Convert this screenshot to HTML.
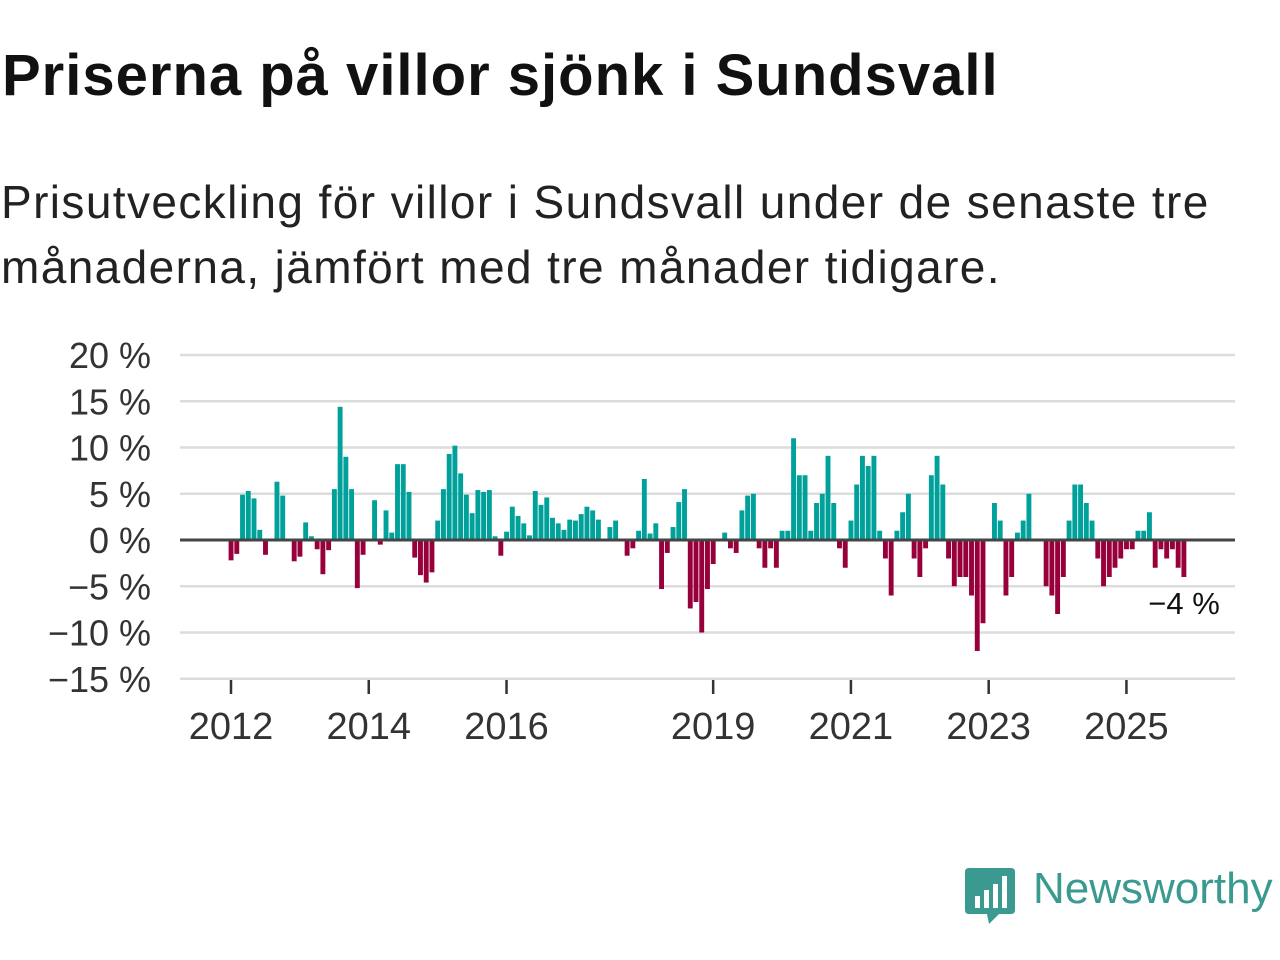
<!DOCTYPE html>
<html><head><meta charset="utf-8">
<style>
body{margin:0;width:1280px;height:960px;background:#fff;font-family:"Liberation Sans",sans-serif;overflow:hidden;position:relative}
h1{position:absolute;left:2px;top:47px;margin:0;font-size:58px;line-height:1;font-weight:bold;color:#111;letter-spacing:1px}
p{position:absolute;left:1px;top:170px;margin:0;font-size:46px;line-height:65px;color:#222;width:1279px;letter-spacing:1.4px;white-space:nowrap}
svg{position:absolute;left:0;top:0}
</style></head><body>
<h1>Priserna på villor sjönk i Sundsvall</h1>
<p>Prisutveckling för villor i Sundsvall under de senaste tre<br>månaderna, jämfört med tre månader tidigare.</p>
<svg id="chart" width="1280" height="960"></svg>
<script>
const values=[-2.2,-1.5,4.9,5.3,4.5,1.1,-1.6,0,6.3,4.8,0,-2.3,-1.8,1.9,0.4,-1.0,-3.7,-1.1,5.5,14.4,9.0,5.5,-5.2,-1.6,0,4.3,-0.5,3.2,0.8,8.2,8.2,5.2,-1.9,-3.8,-4.6,-3.5,2.1,5.5,9.3,10.2,7.2,4.9,2.9,5.4,5.2,5.4,0.4,-1.7,0.9,3.6,2.6,
1.8,0.5,5.3,3.8,4.6,2.4,1.8,1.1,2.2,2.1,2.8,3.6,3.2,2.2,0,1.4,2.1,0,-1.7,-0.9,1.0,6.6,0.7,1.8,-5.3,-1.4,1.4,4.1,5.5,-7.4,-6.7,-10,-5.3,-2.6,0,0.8,-0.9,-1.4,3.2,4.8,5.0,-0.9,-3.0,-0.9,-3.0,1.0,1.0,11.0,7.0,7.0,1.0,4.0,5.0,9.1,4.0,-0.9,-3.0,2.1,6.0,
9.1,8.0,9.1,1.0,-2.0,-6.0,1.0,3.0,5.0,-2.0,-4.0,-0.9,7.0,9.1,6.0,-2.0,-5.0,-4.0,-4.0,-6.0,-12.0,-9.0,0,4.0,2.1,-6.0,-4.0,0.8,2.1,5.0,0,0,-5.0,-6.0,-8.0,-4.0,2.1,6.0,6.0,4.0,2.1,-2.0,-5.0,-4.0,-3.0,-2.0,-1.0,-1.0,1.0,1.0,3.0,-3.0,-1.0,-2.0,-1.0,-3.0,-4.0];
const yTicks=[20,15,10,5,0,-5,-10,-15];
const yTickLabels=["20 %","15 %","10 %","5 %","0 %","−5 %","−10 %","−15 %"];
const xYears=[2012,2014,2016,2019,2021,2023,2025];
const lastLabel="−4 %";
const svg=document.getElementById('chart');
const NS='http://www.w3.org/2000/svg';
const x=i=>231+i*5.74;
const xYear=yr=>x((yr-2012)*12);
const y=v=>540-v*9.25;
function mk(t,a){const e=document.createElementNS(NS,t);for(const k in a)e.setAttribute(k,a[k]);svg.appendChild(e);return e;}
yTicks.forEach((t,i)=>{
  if(t!==0){const g=mk('line',{x1:180,x2:1235,y1:y(t),y2:y(t),stroke:'#dcdcdc','stroke-width':2.5});
  
  }
  const l=mk('text',{x:151,y:y(t)+13,'text-anchor':'end','font-size':36,fill:'#333','font-family':'Liberation Sans, sans-serif'});
  l.textContent=yTickLabels[i];
  
  
});
values.forEach((v,i)=>{
  const r=mk('rect',{x:x(i)-2.4,width:4.9,y:v>=0?y(v):y(0),height:Math.abs(y(v)-y(0)),fill:v>=0?'#00a19a':'#98003c'});
  
  
});
const z=mk('line',{x1:180,x2:1235,y1:y(0),y2:y(0),stroke:'#444','stroke-width':3});


xYears.forEach(yr=>{
  const t=mk('line',{x1:xYear(yr),x2:xYear(yr),y1:680,y2:694,stroke:'#333','stroke-width':2.5});
  
  
  const l=mk('text',{x:xYear(yr),y:739,'text-anchor':'middle','font-size':38,fill:'#333','font-family':'Liberation Sans, sans-serif'});
  l.textContent=yr;
  
  
});
const a=mk('text',{x:1184,y:614,'text-anchor':'middle','font-size':31,fill:'#111',stroke:'#fff','stroke-width':6,'paint-order':'stroke','font-family':'Liberation Sans, sans-serif'});
a.textContent=lastLabel;


</script>
<div style="position:absolute;left:965px;top:866px;width:320px;height:62px">
<svg width="52" height="60" style="position:absolute;left:0;top:0">
<path d="M4 2 H46 Q50 2 50 6 V44 Q50 48 46 48 H34 L24 58 L22 48 H4 Q0 48 0 44 V6 Q0 2 4 2Z" fill="#3a9a8f"/>
<rect x="10" y="30" width="5" height="12" fill="#fff"/><rect x="19" y="24" width="5" height="18" fill="#fff"/><rect x="28" y="18" width="5" height="24" fill="#fff"/><rect x="37" y="10" width="5" height="32" fill="#fff"/>
</svg>
<span style="position:absolute;left:68px;top:-2px;font-size:44px;color:#3a9a8f;font-family:'Liberation Sans',sans-serif">Newsworthy</span>
</div>
</body></html>
